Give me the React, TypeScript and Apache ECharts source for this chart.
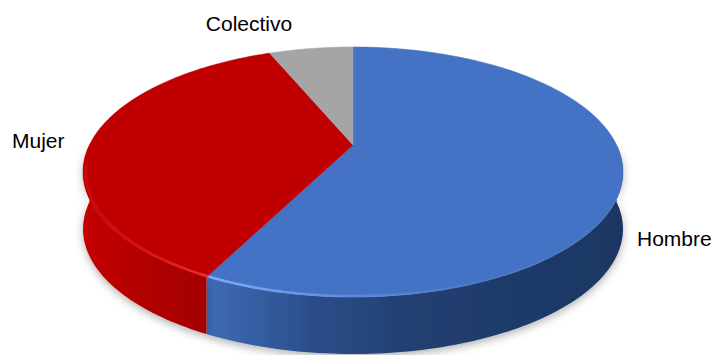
import React, { useEffect, useRef } from "react";
import * as echarts from "echarts";

const categories = ["Hombre", "Mujer", "Colectivo"];
const values = [57.4, 36.4, 6.2];

const topColors = ["#4472C4", "#C00000", "#A5A5A5"];
const rimStops: [number, string][][] = [
  [[0, "rgba(130,175,250,0.95)"], [0.35, "rgba(110,155,235,0.6)"], [0.7, "rgba(90,130,210,0.15)"], [1, "rgba(90,130,210,0)"]],
  [[0, "rgba(235,40,40,0.25)"], [0.6, "rgba(240,40,40,0.55)"], [1, "rgba(250,60,60,0.8)"]],
  [[0, "rgba(220,220,220,0.5)"], [1, "rgba(220,220,220,0.5)"]],
];
const sideStops: [number, string][][] = [
  [[0, "#3F6CB8"], [0.25, "#2B4E8A"], [0.5, "#213F71"], [1, "#1C3662"]],
  [[0, "#C40000"], [0.5, "#B20000"], [1, "#A30000"]],
  [[0, "#8A8A8A"], [1, "#7A7A7A"]],
];

// geometry of projected disc
const CX = 353;
const CY = 145;
const RA = 263.6;
const RB = 119.2;
const PC = 0.216;
const DEPTH = 57;

const total = values.reduce((a, b) => a + b, 0);
const startAngles: number[] = [];
{
  let acc = 0;
  for (const v of values) {
    startAngles.push((acc / total) * Math.PI * 2);
    acc += v;
  }
}

function proj(theta: number, depth = 0, k = 1): number[] {
  const u = Math.sin(theta) * k;
  const v = -Math.cos(theta) * k;
  const s = 1 / (1 - PC * v);
  return [CX + RA * u * s, CY + RB * v * s + depth];
}

function arcPts(a1: number, a2: number, depth = 0, k = 1): number[][] {
  const n = Math.max(2, Math.ceil(Math.abs(a2 - a1) / 0.02));
  const pts: number[][] = [];
  for (let i = 0; i <= n; i++) {
    pts.push(proj(a1 + ((a2 - a1) * i) / n, depth, k));
  }
  return pts;
}

function sliceRange(i: number) {
  const a1 = startAngles[i];
  const a2 = a1 + (values[i] / total) * Math.PI * 2;
  return [a1, a2];
}

const grad = (stops: [number, string][]) =>
  new echarts.graphic.LinearGradient(0, 0, 1, 0, stops.map(([o, c]) => ({ offset: o, color: c })));

export default function App() {
  const ref = useRef<HTMLDivElement>(null);
  useEffect(() => {
    document.body.style.margin = "0";
    if (!ref.current) return;
    const chart = echarts.init(ref.current, undefined, { renderer: "svg" });
    const data = values.map((v, i) => ({ name: categories[i], value: v }));

    const sideItem = (params: any) => {
      const i = params.dataIndex;
      const [a1, a2] = sliceRange(i);
      const lo = Math.max(a1, Math.PI / 2);
      const hi = Math.min(a2, (Math.PI * 3) / 2);
      if (hi <= lo) return { type: "group", children: [] };
      const top = arcPts(lo, hi, 0);
      const bot = arcPts(hi, lo, DEPTH);
      return {
        type: "polygon",
        shape: { points: top.concat(bot) },
        style: {
          fill: grad(sideStops[i]),
          shadowColor: "rgba(0,0,0,0.3)",
          shadowBlur: 9,
          shadowOffsetY: 3,
        },
      };
    };

    const topItem = (params: any) => {
      const i = params.dataIndex;
      const [a1, a2] = sliceRange(i);
      const pts = [[CX, CY]].concat(arcPts(a1, a2, 0));
      const children: any[] = [
        {
          type: "polygon",
          shape: { points: pts },
          style: { fill: topColors[i], stroke: topColors[i], lineWidth: 0.5 },
        },
      ];
      const lo = Math.max(a1, Math.PI * 0.62);
      const hi = Math.min(a2, Math.PI * 1.45);
      if (hi > lo) {
        children.push({
          type: "polyline",
          shape: { points: arcPts(lo, hi, 1, 0.99) },
          style: { stroke: grad(rimStops[i]), lineWidth: 2.5, fill: null },
        });
      }
      return { type: "group", children };
    };

    const font = "21px 'Liberation Sans', Arial, sans-serif";
    chart.setOption({
      animation: false,
      backgroundColor: "#ffffff",
      series: [
        {
          type: "custom",
          coordinateSystem: "none",
          renderItem: sideItem,
          data,
          z: 1,
          silent: true,
        },
        {
          type: "custom",
          coordinateSystem: "none",
          renderItem: topItem,
          data,
          z: 2,
          silent: true,
        },
      ],
      graphic: [
        {
          type: "text",
          x: 249,
          y: 23,
          style: { text: categories[2], font, fill: "#000", align: "center", verticalAlign: "middle" },
        },
        {
          type: "text",
          x: 12,
          y: 140,
          style: { text: categories[1], font, fill: "#000", align: "left", verticalAlign: "middle" },
        },
        {
          type: "text",
          x: 637,
          y: 238,
          style: { text: categories[0], font, fill: "#000", align: "left", verticalAlign: "middle" },
        },
      ],
    });
    return () => chart.dispose();
  }, []);
  return <div ref={ref} style={{ width: 719, height: 355 }} />;
}
